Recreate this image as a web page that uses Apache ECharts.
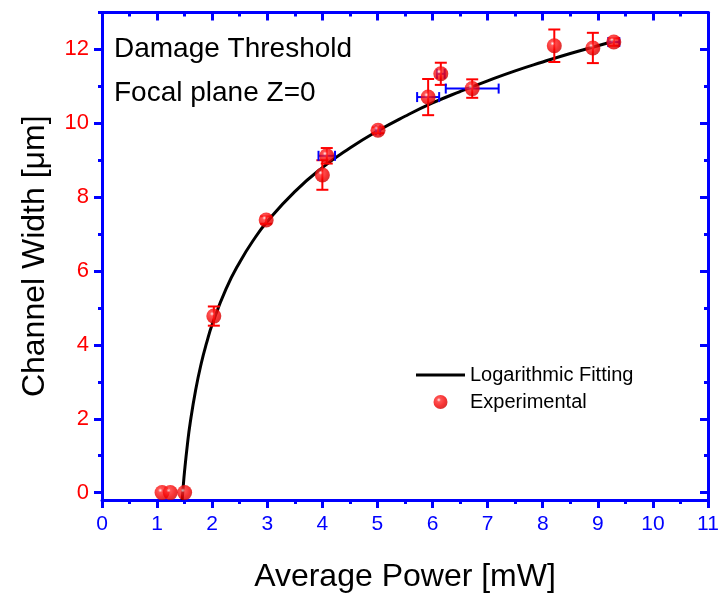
<!DOCTYPE html>
<html>
<head>
<meta charset="utf-8">
<script src="https://cdn.jsdelivr.net/npm/echarts@6/dist/echarts.min.js"></script>
<style>html,body{margin:0;padding:0;background:#fff;}#c{width:720px;height:595px;}</style>
</head>
<body>
<div id="c"></div>
<script>
// Experimental points
const expX    = [1.09, 1.24, 1.50, 2.03, 2.98, 4.00, 4.08, 5.01, 5.92, 6.15, 6.72, 8.21, 8.91, 9.29];
const expY    = [0.00, 0.00, 0.00, 4.78, 7.38, 8.60, 9.12, 9.81, 10.71, 11.34, 10.94, 12.10, 12.04, 12.20];
const expYErr = [0.00, 0.00, 0.00, 0.26, 0.10, 0.40, 0.21, 0.08, 0.49, 0.30, 0.25, 0.44, 0.41, 0.10];
const expXErr = [0.00, 0.00, 0.00, 0.00, 0.00, 0.00, 0.15, 0.04, 0.20, 0.07, 0.48, 0.00, 0.00, 0.10];
// Logarithmic fitting curve
const fitX = [1.455, 1.47, 1.5, 1.55, 1.6, 1.7, 1.8, 1.9, 2.0, 2.25, 2.5, 2.75, 3.0, 3.5, 4.0, 4.5, 5.0, 5.5, 6.0, 6.5, 7.0, 7.5, 8.0, 8.5, 9.0, 9.3];
const fitY = [-0.2, 0.09, 0.60, 1.30, 1.88, 2.78, 3.49, 4.06, 4.55, 5.51, 6.24, 6.84, 7.34, 8.15, 8.80, 9.33, 9.79, 10.19, 10.55, 10.86, 11.15, 11.42, 11.66, 11.89, 12.10, 12.22];
// Tick labels
const xTicks = [0,1,2,3,4,5,6,7,8,9,10,11];
const yMajor = [0,2,4,6,8,10,12];
const yMinor = [1,3,5,7,9,11,13];

const FONT = "'Liberation Sans', Arial, sans-serif";
const BLUE = '#0000ff';
const RED = '#ff0000';

const chart = echarts.init(document.getElementById('c'));

const expData = expX.map((x,i)=>[x, expY[i], expYErr[i], expXErr[i]]);
const fitData = fitX.map((x,i)=>[x, fitY[i]]);

const sphere = {
  type: 'radial', x: 0.38, y: 0.35, r: 0.65,
  colorStops: [
    {offset: 0, color: '#fff0f0'},
    {offset: 0.22, color: '#ff2a2a'},
    {offset: 0.7, color: '#f40000'},
    {offset: 1, color: '#d00000'}
  ]
};

const xBase = {type:'value', min:0, max:11, interval:1, splitLine:{show:false}};
const yBase = {type:'value', min:-0.2, max:13, splitLine:{show:false}};

const option = {
  animation: false,
  backgroundColor: '#ffffff',
  grid: {left:102, right:12, top:12.5, bottom:95, containLabel:false, outerBoundsMode:'none'},
  xAxis: [
    Object.assign({}, xBase, {
      position:'bottom',
      axisLine:{show:true, onZero:false, lineStyle:{color:BLUE, width:3}},
      axisTick:{show:true, inside:false, length:8, lineStyle:{color:BLUE, width:3}},
      minorTick:{show:true, splitNumber:2, length:4, lineStyle:{color:BLUE, width:3}},
      axisLabel:{show:true, color:BLUE, fontSize:21, fontFamily:FONT, margin:14,
                 customValues: xTicks},
      name:'Average Power [mW]', nameLocation:'middle', nameGap:61,
      nameTextStyle:{color:'#000', fontSize:32, fontFamily:FONT}
    }),
    Object.assign({}, xBase, {
      position:'top',
      axisLine:{show:true, onZero:false, lineStyle:{color:BLUE, width:3}},
      axisTick:{show:true, inside:true, length:8, lineStyle:{color:BLUE, width:3}},
      minorTick:{show:true, splitNumber:2, length:4, lineStyle:{color:BLUE, width:3}},
      axisLabel:{show:false}
    })
  ],
  yAxis: [
    Object.assign({}, yBase, {
      position:'left',
      axisLine:{show:true, onZero:false, lineStyle:{color:BLUE, width:3}},
      axisTick:{show:true, inside:false, length:8, lineStyle:{color:BLUE, width:3}, customValues: yMajor},
      axisLabel:{show:true, color:RED, fontSize:22, fontFamily:FONT, margin:13, customValues: yMajor},
      name:'Channel Width [\u03bcm]', nameLocation:'middle', nameGap:51,
      nameTextStyle:{color:'#000', fontSize:32, fontFamily:FONT}
    }),
    Object.assign({}, yBase, {
      position:'left',
      axisLine:{show:false, onZero:false},
      axisTick:{show:true, inside:false, length:4, lineStyle:{color:BLUE, width:3}, customValues: yMinor},
      axisLabel:{show:false}
    }),
    Object.assign({}, yBase, {
      position:'right',
      axisLine:{show:true, onZero:false, lineStyle:{color:BLUE, width:3}},
      axisTick:{show:true, inside:true, length:8, lineStyle:{color:BLUE, width:3}, customValues: yMajor},
      axisLabel:{show:false}
    }),
    Object.assign({}, yBase, {
      position:'right',
      axisLine:{show:false, onZero:false},
      axisTick:{show:true, inside:true, length:4, lineStyle:{color:BLUE, width:3}, customValues: yMinor},
      axisLabel:{show:false}
    })
  ],
  legend: {
    orient:'vertical', left:416, top:365, padding:0, itemWidth:49, itemHeight:14, itemGap:7,
    textStyle:{color:'#000', fontSize:20, fontFamily:FONT},
    data:[
      {name:'Logarithmic Fitting', icon:'path://M0,0L49,0L49,3L0,3Z', itemStyle:{color:'#000'}},
      {name:'Experimental'}
    ]
  },
  graphic: [
    {type:'text', left:114, top:35, style:{text:'Damage Threshold', fontSize:28, fontFamily:FONT, fill:'#000'}},
    {type:'text', left:114, top:79, style:{text:'Focal plane Z=0', fontSize:28, fontFamily:FONT, fill:'#000'}}
  ],
  series: [
    {
      name:'Logarithmic Fitting', type:'line', data:fitData, smooth:true, symbol:'none',
      xAxisIndex:0, yAxisIndex:0, clip:true, z:2,
      lineStyle:{color:'#000', width:3}, itemStyle:{color:'#000'}
    },
    {
      name:'errors', type:'custom', data:expData, xAxisIndex:0, yAxisIndex:0, z:3,
      renderItem: function(params, api){
        const x = api.value(0), y = api.value(1), ey = api.value(2), ex = api.value(3);
        const children = [];
        if (ex > 0) {
          const l = api.coord([x-ex, y]), r = api.coord([x+ex, y]);
          children.push({type:'line', shape:{x1:l[0], y1:l[1], x2:r[0], y2:r[1]}, style:{stroke:BLUE, lineWidth:2}});
          children.push({type:'line', shape:{x1:l[0], y1:l[1]-5, x2:l[0], y2:l[1]+5}, style:{stroke:BLUE, lineWidth:2}});
          children.push({type:'line', shape:{x1:r[0], y1:r[1]-5, x2:r[0], y2:r[1]+5}, style:{stroke:BLUE, lineWidth:2}});
        }
        if (ey > 0) {
          const t = api.coord([x, y+ey]), b = api.coord([x, y-ey]);
          children.push({type:'line', shape:{x1:t[0], y1:t[1], x2:b[0], y2:b[1]}, style:{stroke:RED, lineWidth:2}});
          children.push({type:'line', shape:{x1:t[0]-6, y1:t[1], x2:t[0]+6, y2:t[1]}, style:{stroke:RED, lineWidth:2}});
          children.push({type:'line', shape:{x1:b[0]-6, y1:b[1], x2:b[0]+6, y2:b[1]}, style:{stroke:RED, lineWidth:2}});
        }
        return {type:'group', children: children};
      },
      silent:true
    },
    {
      name:'Experimental', type:'scatter', data:expData.map(d=>[d[0], d[1]]),
      xAxisIndex:0, yAxisIndex:0, symbol:'circle', symbolSize:15, z:4,
      itemStyle:{color: sphere, borderWidth:0}
    }
  ]
};
chart.setOption(option);
</script>
</body>
</html>
